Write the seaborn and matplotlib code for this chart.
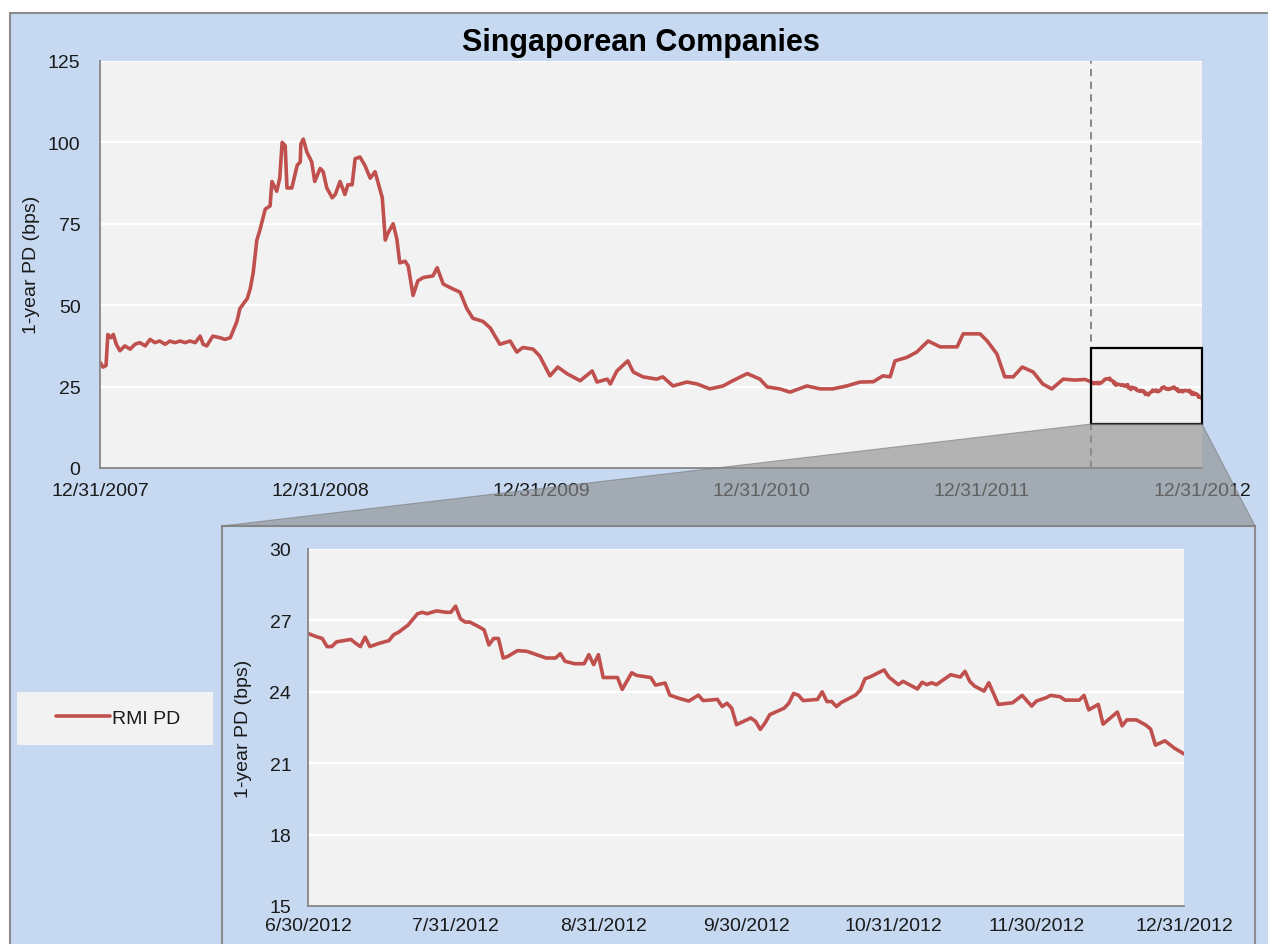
import matplotlib
matplotlib.use("Agg")
import matplotlib.pyplot as plt
from matplotlib.patches import Rectangle, Polygon
import matplotlib.dates as mdates
import pandas as pd
import seaborn as sns

# ---------------- data ----------------
title = "Singaporean Companies"
y_label = "1-year PD (bps)"
series_name = "RMI PD"

main_dates = [
    "2007-12-31", "2008-01-05", "2008-01-10", "2008-01-13", "2008-01-18", "2008-01-22", "2008-01-27",
    "2008-02-02", "2008-02-10", "2008-02-19", "2008-02-27",
    "2008-03-06", "2008-03-15", "2008-03-23", "2008-03-31",
    "2008-04-08", "2008-04-17", "2008-04-25",
    "2008-05-03", "2008-05-12", "2008-05-20", "2008-05-28",
    "2008-06-06", "2008-06-14", "2008-06-19", "2008-06-25",
    "2008-07-05", "2008-07-17", "2008-07-25",
    "2008-08-03", "2008-08-14", "2008-08-19", "2008-08-31",
    "2008-09-05", "2008-09-10", "2008-09-16", "2008-09-21", "2008-09-30",
    "2008-10-08", "2008-10-11", "2008-10-19", "2008-10-24", "2008-10-28",
    "2008-11-02", "2008-11-05", "2008-11-13", "2008-11-22", "2008-11-27", "2008-11-28",
    "2008-12-02", "2008-12-08", "2008-12-16", "2008-12-21", "2008-12-30",
    "2009-01-04", "2009-01-10", "2009-01-19", "2009-01-24",
    "2009-02-01", "2009-02-09", "2009-02-14", "2009-02-21", "2009-02-26",
    "2009-03-06", "2009-03-14", "2009-03-23", "2009-03-31",
    "2009-04-03", "2009-04-12", "2009-04-17", "2009-04-21", "2009-04-30",
    "2009-05-06", "2009-05-11", "2009-05-20", "2009-05-25",
    "2009-06-02", "2009-06-10", "2009-06-19",
    "2009-07-05", "2009-07-12", "2009-07-22",
    "2009-08-07", "2009-08-19", "2009-08-30",
    "2009-09-09", "2009-09-26",
    "2009-10-08", "2009-10-24",
    "2009-11-10", "2009-11-21",
    "2009-12-01", "2009-12-18", "2009-12-29",
    "2010-01-15", "2010-01-28", "2010-02-12", "2010-03-06", "2010-03-26",
    "2010-04-03", "2010-04-20", "2010-04-25", "2010-05-06", "2010-05-24",
    "2010-06-02", "2010-06-18", "2010-07-11", "2010-07-21", "2010-08-07", "2010-08-30",
    "2010-09-16", "2010-10-07", "2010-10-29", "2010-11-14", "2010-12-08", "2010-12-29",
    "2011-01-10", "2011-01-31", "2011-02-17", "2011-03-17", "2011-04-08", "2011-04-29",
    "2011-05-22", "2011-06-13", "2011-07-05", "2011-07-21", "2011-08-02", "2011-08-10", "2011-08-30",
    "2011-09-15", "2011-10-04", "2011-10-24", "2011-11-21", "2011-12-01", "2011-12-29",
    "2012-01-10", "2012-01-26", "2012-02-08", "2012-02-22", "2012-03-08", "2012-03-26",
    "2012-04-11", "2012-04-26", "2012-05-15", "2012-06-03", "2012-06-20",
]
main_values = [
    32.5, 31, 31.5, 41, 40, 41, 38,
    36, 37.5, 36.5, 38,
    38.5, 37.5, 39.5, 38.5,
    39, 38, 39,
    38.5, 39, 38.5, 39,
    38.5, 40.5, 38, 37.5,
    40.5, 40, 39.5,
    40, 45, 49, 52,
    55, 60, 70, 73, 79.5,
    80.5, 88, 85, 89, 100,
    99, 86, 86, 93, 94, 99.5,
    101, 97, 94, 88, 92,
    91, 86, 83, 84,
    88, 84, 87, 87, 95,
    95.5, 93, 89, 91,
    89, 83, 70, 72, 75,
    70.5, 63, 63.5, 62,
    53, 57.5, 58.5,
    59, 61.5, 56.5,
    55, 54, 49,
    46, 45,
    43, 38,
    39, 35.6,
    37, 36.5, 34.4,
    28.3, 31, 29, 26.8, 29.8,
    26.4, 27.3, 25.8, 29.8, 32.9,
    29.5, 28, 27.3, 28, 25.2, 26.4,
    25.8, 24.3, 25.2, 26.8, 29, 27.3,
    24.9, 24.3, 23.3, 25.2, 24.3, 24.3,
    25.2, 26.4, 26.5, 28.3, 28, 32.9, 34,
    35.6, 39, 37.2, 37.2, 41.2, 41.2,
    39, 35, 28, 28, 31, 29.5,
    25.8, 24.3, 27.3, 27, 27.2,
]

inset_dates = [
    "2012-06-30", "2012-07-02", "2012-07-03", "2012-07-04", "2012-07-05", "2012-07-06",
    "2012-07-09", "2012-07-10", "2012-07-11", "2012-07-12", "2012-07-13", "2012-07-15",
    "2012-07-17", "2012-07-18", "2012-07-19", "2012-07-21", "2012-07-23", "2012-07-24",
    "2012-07-25", "2012-07-27", "2012-07-29", "2012-07-30", "2012-07-31",
    "2012-08-01", "2012-08-02", "2012-08-03", "2012-08-05", "2012-08-06", "2012-08-07",
    "2012-08-08", "2012-08-09", "2012-08-10", "2012-08-11", "2012-08-13", "2012-08-15",
    "2012-08-17", "2012-08-19", "2012-08-21", "2012-08-22", "2012-08-23", "2012-08-25",
    "2012-08-27", "2012-08-28", "2012-08-29", "2012-08-30", "2012-08-31",
    "2012-09-03", "2012-09-04", "2012-09-06", "2012-09-07", "2012-09-10", "2012-09-11",
    "2012-09-13", "2012-09-14", "2012-09-16", "2012-09-18", "2012-09-20", "2012-09-21",
    "2012-09-24", "2012-09-25", "2012-09-26", "2012-09-27", "2012-09-28",
    "2012-10-01", "2012-10-02", "2012-10-03", "2012-10-04", "2012-10-05", "2012-10-08",
    "2012-10-09", "2012-10-10", "2012-10-11", "2012-10-12", "2012-10-15", "2012-10-16",
    "2012-10-17", "2012-10-18", "2012-10-19", "2012-10-20", "2012-10-23", "2012-10-24",
    "2012-10-25", "2012-10-26", "2012-10-29", "2012-10-30",
    "2012-11-01", "2012-11-02", "2012-11-05", "2012-11-06", "2012-11-07", "2012-11-08",
    "2012-11-09", "2012-11-12", "2012-11-14", "2012-11-15", "2012-11-16", "2012-11-17",
    "2012-11-19", "2012-11-20", "2012-11-22", "2012-11-25", "2012-11-27", "2012-11-29",
    "2012-11-30",
    "2012-12-02", "2012-12-03", "2012-12-05", "2012-12-06", "2012-12-09", "2012-12-10",
    "2012-12-11", "2012-12-13", "2012-12-14", "2012-12-17", "2012-12-18", "2012-12-19",
    "2012-12-21", "2012-12-23", "2012-12-24", "2012-12-25", "2012-12-27", "2012-12-29",
    "2012-12-31",
]
inset_values = [
    26.45, 26.3, 26.24, 25.9, 25.9, 26.1,
    26.2, 26.04, 25.9, 26.3, 25.9, 26.04,
    26.15, 26.4, 26.5, 26.8, 27.28, 27.34,
    27.28, 27.4, 27.34, 27.34, 27.6,
    27.07, 26.93, 26.93, 26.72, 26.6, 25.97,
    26.24, 26.24, 25.42, 25.49, 25.73, 25.7,
    25.56, 25.42, 25.42, 25.6, 25.28, 25.18,
    25.18, 25.56, 25.14, 25.56, 24.6,
    24.6, 24.1, 24.8, 24.69, 24.6, 24.28,
    24.37, 23.86, 23.72, 23.61, 23.86, 23.63,
    23.68, 23.38, 23.52, 23.31, 22.62,
    22.9, 22.76, 22.42, 22.69, 23.04, 23.31,
    23.52, 23.93, 23.86, 23.63, 23.68, 24.0,
    23.59, 23.59, 23.38, 23.55, 23.86, 24.07,
    24.55, 24.62, 24.92, 24.62,
    24.3, 24.44, 24.12, 24.4, 24.3, 24.38,
    24.3, 24.72, 24.62, 24.86, 24.44, 24.24,
    24.03, 24.38, 23.47, 23.54, 23.85, 23.4,
    23.61,
    23.75, 23.85, 23.79, 23.65, 23.65, 23.85,
    23.24, 23.47, 22.64, 23.15, 22.57, 22.82,
    22.82, 22.6, 22.43, 21.76, 21.94, 21.63,
    21.39,
]

main_yticks = [0, 25, 50, 75, 100, 125]
inset_yticks = [15, 18, 21, 24, 27, 30]
main_xticks = ["2007-12-31", "2008-06-30", "2008-12-31", "2009-06-30", "2009-12-31",
               "2010-06-30", "2010-12-31", "2011-06-30", "2011-12-31", "2012-06-30", "2012-12-31"]
main_xticklabels = ["12/31/2007", "", "12/31/2008", "", "12/31/2009", "", "12/31/2010", "",
                    "12/31/2011", "", "12/31/2012"]
inset_xticks = ["2012-06-30", "2012-07-31", "2012-08-31", "2012-09-30", "2012-10-31",
                "2012-11-30", "2012-12-31"]
inset_xticklabels = ["6/30/2012", "7/31/2012", "8/31/2012", "9/30/2012", "10/31/2012",
                     "11/30/2012", "12/31/2012"]
zoom_start, zoom_end = "2012-06-30", "2012-12-31"
zoom_box_low, zoom_box_high = 13.5, 37

# ---------------- style ----------------
sns.set_style("white")
plt.rcParams['font.family'] = ['Liberation Sans', 'DejaVu Sans']

RED = "#C0504D"
BLUE = "#C6D9F1"
PLOT_BG = "#F2F2F2"
SPINE = "#868686"
TXT = "#1A1A1A"

df = pd.DataFrame({"date": pd.to_datetime(main_dates + inset_dates),
                   "pd": main_values + inset_values})
inset_df = df[df["date"] >= pd.Timestamp(zoom_start)]

W, H = 1268, 945
fig = plt.figure(figsize=(W / 100, H / 100), dpi=100, facecolor="white")


def fx(px):
    return px / W


def fy(py):
    return 1 - py / H


# outer blue panel
fig.patches.append(Rectangle((fx(10), fy(1000)), fx(1400), fy(14) - fy(1000),
                             transform=fig.transFigure, facecolor=BLUE,
                             edgecolor="#8C8C8C", lw=1.5, zorder=-1))

# ---------------- main axes ----------------
ax = fig.add_axes([fx(100), fy(469), fx(1202) - fx(100), fy(62) - fy(469)], zorder=1)
ax.set_facecolor(PLOT_BG)
sns.lineplot(data=df, x="date", y="pd", ax=ax, color=RED, lw=2.6,
             estimator=None, sort=False, legend=False)
ax.set_xlim(pd.Timestamp("2007-12-31"), pd.Timestamp("2012-12-31"))
ax.set_ylim(0, 125)
ax.set_yticks(main_yticks)
ax.set_xticks(pd.to_datetime(main_xticks))
ax.set_xticklabels(main_xticklabels)
ax.set_xlabel("")
ax.set_ylabel("")
ax.yaxis.grid(True, color="white", lw=1.6)
ax.xaxis.grid(False)
ax.set_axisbelow(True)
for s in ["top", "right"]:
    ax.spines[s].set_visible(False)
for s in ["left", "bottom"]:
    ax.spines[s].set_color(SPINE)
    ax.spines[s].set_linewidth(1.3)
ax.tick_params(axis="y", direction="in", length=6, width=1, color=SPINE,
               labelsize=14, labelcolor=TXT, pad=14)
ax.tick_params(axis="x", direction="in", length=6, width=1, color=SPINE,
               labelsize=14, labelcolor=TXT, pad=10)

zs, ze = pd.Timestamp(zoom_start), pd.Timestamp(zoom_end)
ax.axvline(zs, color="#7F7F7F", lw=1.3, ls=(0, (4, 3)), zorder=2)
x0 = mdates.date2num(zs)
x1 = mdates.date2num(ze)
ax.add_patch(Rectangle((x0, zoom_box_low), x1 - x0, zoom_box_high - zoom_box_low,
                       fill=False, edgecolor="black", lw=1.6, zorder=4, clip_on=False))

# inset panel
fig.patches.append(Rectangle((fx(222), fy(1000)), fx(1255) - fx(222), fy(527) - fy(1000),
                             transform=fig.transFigure, facecolor=BLUE,
                             edgecolor="#8C8C8C", lw=1.5, zorder=2))

# connector polygon
inv = fig.transFigure.inverted()
bl = inv.transform(ax.transData.transform((x0, zoom_box_low)))
br = inv.transform(ax.transData.transform((x1, zoom_box_low)))
poly = Polygon([bl, br, (fx(1255), fy(527)), (fx(222), fy(527))], closed=True,
               transform=fig.transFigure, facecolor="#8D8D8D", alpha=0.62,
               edgecolor="#7A7A7A", lw=0.8, zorder=3)
fig.patches.append(poly)

# ---------------- inset axes ----------------
ax2 = fig.add_axes([fx(308), fy(907), fx(1184) - fx(308), fy(550) - fy(907)], zorder=4)
ax2.set_facecolor(PLOT_BG)
sns.lineplot(data=inset_df, x="date", y="pd", ax=ax2, color=RED, lw=2.6,
             estimator=None, sort=False, legend=False)
ax2.set_xlim(zs, ze)
ax2.set_ylim(15, 30)
ax2.set_yticks(inset_yticks)
ax2.set_xticks(pd.to_datetime(inset_xticks))
ax2.set_xticklabels(inset_xticklabels)
ax2.set_xlabel("")
ax2.set_ylabel("")
ax2.yaxis.grid(True, color="white", lw=1.6)
ax2.xaxis.grid(False)
ax2.set_axisbelow(True)
for s in ["top", "right"]:
    ax2.spines[s].set_visible(False)
for s in ["left", "bottom"]:
    ax2.spines[s].set_color(SPINE)
    ax2.spines[s].set_linewidth(1.3)
ax2.tick_params(axis="y", direction="in", length=6, width=1, color=SPINE,
                labelsize=14, labelcolor=TXT, pad=12)
ax2.tick_params(axis="x", direction="in", length=6, width=1, color=SPINE,
                labelsize=14, labelcolor=TXT, pad=8)

# ---------------- texts ----------------
fig.text(fx(641), fy(43), title, ha="center", va="center", fontsize=22,
         fontweight="bold", color="black", zorder=5)
fig.text(fx(31), fy(265), y_label, rotation=90, ha="center", va="center",
         fontsize=14, color=TXT, zorder=5)
fig.text(fx(243), fy(729), y_label, rotation=90, ha="center", va="center",
         fontsize=14, color=TXT, zorder=5)

# ---------------- legend ----------------
fig.patches.append(Rectangle((fx(17), fy(746)), fx(213) - fx(17), fy(693) - fy(746),
                             transform=fig.transFigure, facecolor=PLOT_BG,
                             edgecolor="none", zorder=2))
handle = ax.get_lines()[0]
leg = fig.legend([handle], [series_name], loc="center",
                 bbox_to_anchor=(fx(118), fy(719)), frameon=False, fontsize=14,
                 handlelength=2.8, handletextpad=0.1, labelcolor=TXT)
leg.set_zorder(5)

fig.savefig("out.png", dpi=100, facecolor="white")
